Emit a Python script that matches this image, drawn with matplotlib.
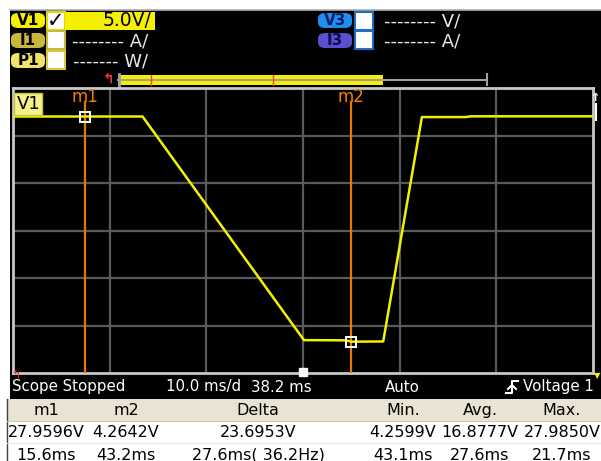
import matplotlib
matplotlib.use("Agg")
import matplotlib.pyplot as plt
from matplotlib.patches import Rectangle, FancyBboxPatch
from matplotlib.lines import Line2D

# scope settings
center_ms = 38.2
ms_per_div = 10.0
volt_per_div = 5.0
volt_bottom = 0.96
n_xdiv, n_ydiv = 6, 6

# V1 trace (ms, V)
trace_t = [8.2, 21.6, 38.3, 42.6, 43.2, 46.5, 50.5, 55.0, 55.6, 68.2]
trace_v = [27.96, 27.96, 4.42, 4.40, 4.26, 4.28, 27.90, 27.90, 27.98, 27.98]

marker_names = ["m1", "m2"]
marker_t = [15.6, 43.2]
marker_v = [27.9596, 4.2642]

# measurement table
table_header = ["m1", "m2", "Delta", "Min.", "Avg.", "Max."]
table_row1 = ["27.9596V", "4.2642V", "23.6953V", "4.2599V", "16.8777V", "27.9850V"]
table_row2 = ["15.6ms", "43.2ms", "27.6ms( 36.2Hz)", "43.1ms", "27.6ms", "21.7ms"]

W, H = 601, 461
fig = plt.figure(figsize=(W / 100, H / 100), dpi=100)
fig.patch.set_facecolor("white")


def fx(x):
    return x / W


def fy(y):
    return 1 - y / H


def rect(x0, y0, x1, y1, **kw):
    fig.patches.append(Rectangle((fx(x0), fy(y1)), fx(x1 - x0), (y1 - y0) / H,
                                 transform=fig.transFigure, **kw))


def pill(x0, y0, x1, y1, color, label, tcolor="black"):
    fig.patches.append(FancyBboxPatch((fx(x0), fy(y1)), fx(x1 - x0), (y1 - y0) / H,
                                      boxstyle="round,pad=0,rounding_size=0.012",
                                      transform=fig.transFigure, fc=color, ec="none"))
    fig.text(fx((x0 + x1) / 2), fy((y0 + y1) / 2), label, color=tcolor, fontsize=11,
             fontweight="bold", ha="center", va="center")


def hline(x0, x1, y, **kw):
    fig.lines.append(Line2D([fx(x0), fx(x1)], [fy(y), fy(y)], transform=fig.transFigure, **kw))


def vline(x, y0, y1, **kw):
    fig.lines.append(Line2D([fx(x), fx(x)], [fy(y0), fy(y1)], transform=fig.transFigure, **kw))


# black screen
rect(10, 10, 601, 399, fc="black", ec="none")
hline(10, 601, 10, color="#b0b0b0", lw=1.2)

# channel rows
pill(11, 13, 45, 28, "#f5f000", "V1")
rect(47, 12, 65, 30, fc="white", ec="#e0d800", lw=1.5)
fig.text(fx(56), fy(21), "\u2713", fontsize=15, color="black", ha="center", va="center",
         fontweight="bold")
rect(65, 12, 155, 30, fc="#f5f000", ec="none")
fig.text(fx(151), fy(21), "5.0V/", fontsize=13.5, color="black", ha="right", va="center")

pill(11, 33, 45, 48, "#c8b73c", "I1")
rect(47, 31, 65, 49, fc="white", ec="#c8b73c", lw=1.5)
fig.text(fx(148), fy(41), "-------- A/", fontsize=13, color="#e8e8e8", ha="right", va="center")

pill(11, 53, 45, 68, "#efe36a", "P1")
rect(47, 51, 65, 69, fc="white", ec="#d8c840", lw=1.5)
fig.text(fx(148), fy(61), "------- W/", fontsize=13, color="#e8e8e8", ha="right", va="center")

pill(318, 13, 352, 28, "#1e8ff0", "V3", "#0a1f60")
rect(355, 12, 373, 30, fc="white", ec="#1e6fc0", lw=1.5)
fig.text(fx(460), fy(21), "-------- V/", fontsize=13, color="#e8e8e8", ha="right", va="center")

pill(318, 33, 352, 48, "#5a4fd0", "I3", "#150a50")
rect(355, 31, 373, 49, fc="white", ec="#1e6fc0", lw=1.5)
fig.text(fx(460), fy(41), "-------- A/", fontsize=13, color="#e8e8e8", ha="right", va="center")

# memory bar
rect(118, 75, 383, 85, fc="#f5f000", ec="none")
hline(118, 487, 80, color="#a0a0a0", lw=1.5)
vline(487, 74, 85, color="#a0a0a0", lw=1.5)
vline(119, 74, 86, color="#a0a0a0", lw=2)
vline(151, 75, 85, color="#e05020", lw=1)
vline(273, 75, 85, color="#e05020", lw=1)
fig.text(fx(108), fy(79), "\u21b0", fontsize=10, color="#ff3030", ha="center", va="center",
         fontweight="bold")

# plot area
ax = fig.add_axes([fx(13), fy(373), fx(580), 285 / H])
ax.set_zorder(2.5)
ax.set_facecolor("black")
x_lo = center_ms - ms_per_div * n_xdiv / 2
x_hi = center_ms + ms_per_div * n_xdiv / 2
ax.set_xlim(x_lo, x_hi)
ax.set_ylim(volt_bottom, volt_bottom + volt_per_div * n_ydiv)
ax.set_xticks([x_lo + ms_per_div * k for k in range(1, n_xdiv)])
ax.set_yticks([volt_bottom + volt_per_div * k for k in range(1, n_ydiv)])
ax.tick_params(length=0, labelbottom=False, labelleft=False)
ax.grid(True, color="#5a5a5a", lw=1.6)
ax.set_axisbelow(True)
for s in ax.spines.values():
    s.set_color("#c8c8c8")
    s.set_linewidth(2)

for name, t, v in zip(marker_names, marker_t, marker_v):
    ax.plot([t, t], [volt_bottom, 29.5], color="#e87800", lw=1.6, zorder=3)
    ax.text(t, 30.0, name, color="#f08000", fontsize=12, ha="center", va="center", zorder=4)

ax.plot(trace_t, trace_v, color="#f2f200", lw=1.8, zorder=4, solid_joinstyle="round")

for t, v in zip(marker_t, marker_v):
    ax.plot([t], [v], marker="s", ms=7, mfc="none", mec="white", mew=1.4, zorder=5)

ax.plot([center_ms], [volt_bottom + 0.1], marker="s", ms=6, color="white", zorder=5,
        clip_on=False)
ax.text(x_lo + 0.35, 29.3, "V1", fontsize=13, color="black", ha="left", va="center",
        bbox=dict(boxstyle="square,pad=0.12", fc="#f5f08a", ec="#c8c040", lw=1), zorder=6)

# side markers
fig.text(fx(596), fy(98), "\u2191", fontsize=8, color="white", ha="center", va="center",
         fontweight="bold")
vline(596, 104, 120, color="white", lw=1.5)
fig.text(fx(597), fy(376), "\u25bc", fontsize=6, color="#f5f000", ha="center", va="center")
fig.text(fx(16), fy(376), "\u21b0", fontsize=8, color="#ff3030", ha="center", va="center")

# status line
st_y = 387
fs = 10.8
fig.text(fx(12), fy(st_y), "Scope Stopped", color="white", fontsize=fs, va="center")
fig.text(fx(166), fy(st_y), "10.0 ms/d", color="white", fontsize=fs, va="center")
fig.text(fx(251), fy(st_y), "38.2 ms", color="white", fontsize=fs, va="center")
fig.text(fx(385), fy(st_y), "Auto", color="white", fontsize=fs, va="center")
fig.text(fx(523), fy(st_y), "Voltage 1", color="white", fontsize=fs, va="center")
fig.lines.append(Line2D([fx(506), fx(512), fx(512), fx(518)],
                        [fy(393), fy(393), fy(381), fy(381)],
                        transform=fig.transFigure, color="white", lw=1.5))
fig.lines.append(Line2D([fx(508), fx(512), fx(516)], [fy(389), fy(385), fy(389)],
                        transform=fig.transFigure, color="white", lw=1.5))

# measurement table
rect(7, 399, 601, 421, fc="#e9e3d3", ec="none")
rect(7, 421, 601, 461, fc="white", ec="none")
vline(7, 399, 461, color="#404040", lw=1)
hline(7, 601, 421, color="#d0c8b8", lw=0.8)
hline(7, 601, 443, color="#e6e6e6", lw=0.8)
col_x = [46, 126, 258, 403, 480, 562]
for x, h, r1, r2 in zip(col_x, table_header, table_row1, table_row2):
    fig.text(fx(x), fy(410), h, fontsize=11.5, color="black", ha="center", va="center")
    fig.text(fx(x), fy(432), r1, fontsize=11.5, color="black", ha="center", va="center")
    fig.text(fx(x), fy(455), r2, fontsize=11.5, color="black", ha="center", va="center")

fig.savefig("out.png", dpi=100, facecolor="white")
